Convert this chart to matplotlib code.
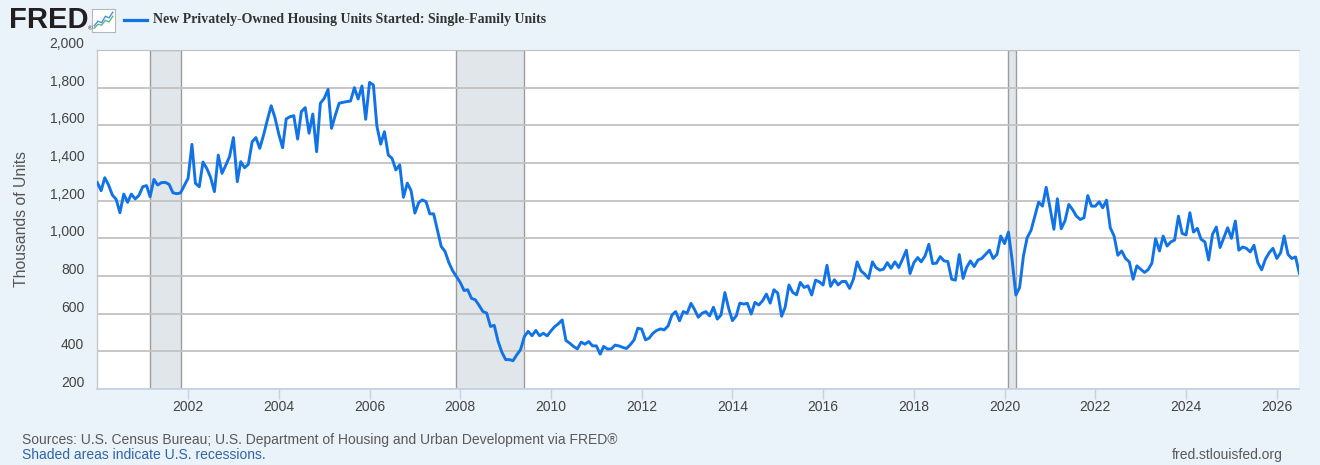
import matplotlib
matplotlib.use('Agg')
import matplotlib.pyplot as plt
import pandas as pd
from matplotlib.lines import Line2D

plt.rcParams['font.family'] = ['Liberation Sans', 'DejaVu Sans']

# housing starts, single-family, thousands of units (SAAR), monthly from Jan 2000
starts = [
    1296, 1253, 1322, 1283, 1230, 1207, 1136, 1235, 1191, 1235, 1209, 1228,
    1274, 1280, 1221, 1313, 1283, 1296, 1297, 1287, 1242, 1237, 1241, 1280,
    1319, 1499, 1292, 1274, 1405, 1370, 1324, 1248, 1442, 1345, 1389, 1434,
    1535, 1301, 1407, 1375, 1393, 1513, 1535, 1478, 1549, 1628, 1704, 1642,
    1554, 1481, 1634, 1646, 1651, 1527, 1673, 1694, 1558, 1660, 1460, 1717,
    1743, 1791, 1584, 1655, 1717, 1722, 1726, 1729, 1800, 1740, 1809, 1632,
    1828, 1814, 1596, 1500, 1566, 1442, 1425, 1363, 1390, 1218, 1293, 1254,
    1134, 1190, 1204, 1195, 1130, 1130, 1045, 957, 930, 872, 828, 798,
    766, 723, 727, 681, 674, 644, 612, 603, 532, 538, 453, 396,
    356, 356, 350, 382, 409, 479, 506, 483, 511, 483, 496, 482,
    509, 532, 546, 567, 458, 443, 426, 413, 449, 438, 452, 429,
    429, 385, 426, 412, 413, 433, 429, 421, 415, 435, 461, 523,
    518, 461, 470, 496, 511, 519, 514, 535, 593, 611, 562, 611,
    602, 655, 623, 581, 602, 611, 588, 634, 571, 593, 712, 629,
    563, 589, 656, 651, 655, 598, 660, 646, 669, 704, 656, 727,
    709, 586, 634, 752, 713, 700, 766, 739, 748, 699, 778, 769,
    752, 857, 745, 780, 753, 771, 771, 734, 783, 875, 827, 810,
    787, 875, 845, 831, 836, 871, 841, 875, 845, 889, 937, 813,
    871, 898, 875, 907, 968, 866, 868, 903, 880, 877, 783, 778,
    914, 787, 845, 880, 850, 885, 893, 915, 937, 893, 915, 1012,
    972, 1033, 889, 699, 739, 907, 1004, 1042, 1118, 1192, 1171, 1271,
    1162, 1048, 1210, 1051, 1092, 1180, 1153, 1118, 1100, 1109, 1227, 1171,
    1171, 1194, 1162, 1203, 1056, 1012, 910, 933, 893, 875, 783, 854,
    836, 819, 833, 868, 998, 933, 1012, 959, 981, 991, 1118, 1026,
    1018, 1136, 1033, 1053, 995, 981, 885, 1021, 1060, 951, 1004, 1056,
    1000, 1092, 937, 954, 947, 928, 963, 871, 833, 889, 924, 947,
    893, 924, 1012, 915, 893, 901, 815,
]
rec_start = ['2001-03-01', '2007-12-01', '2020-02-01']
rec_end = ['2001-11-01', '2009-06-01', '2020-04-01']
tick_years = list(range(2002, 2027, 2))
y_ticks = list(range(200, 2001, 200))

W, H = 1320, 465
bg = '#eaf2fa'
blue = '#1173e6'
txt = '#444444'

fig = plt.figure(figsize=(W / 100, H / 100), dpi=100, facecolor=bg)
ax = fig.add_axes([97.3 / W, 1 - 389 / H, 1202 / W, 339 / H])
ax.set_facecolor('white')

dates = pd.date_range('2000-01-01', periods=len(starts), freq='MS')
ax.plot(dates, starts, color=blue, lw=2.1, solid_joinstyle='round', zorder=3)

for a, b in zip(rec_start, rec_end):
    ax.axvspan(pd.Timestamp(a), pd.Timestamp(b), facecolor='#e1e6eb',
               edgecolor='#9c9c9c', lw=1, zorder=0.3)

ax.set_xlim(dates[0], dates[-1])
ax.set_ylim(200, 2000)
ax.set_yticks(y_ticks)
ax.grid(axis='y', color='#c2c2c2', lw=1.3)
ax.set_axisbelow(True)
ax.tick_params(axis='y', length=0, labelleft=False)
for v in y_ticks:
    ax.annotate(f'{v:,}', xy=(0, v), xycoords=('axes fraction', 'data'),
                xytext=(-13, 6), textcoords='offset pixels', ha='right',
                va='center', fontsize=10, color=txt)

ax.set_xticks([pd.Timestamp(f'{y}-01-01') for y in tick_years])
ax.set_xticklabels([str(y) for y in tick_years])
ax.tick_params(axis='x', length=7, width=1, color='#c5d3e3', labelsize=10,
               labelcolor=txt, pad=1)

ax.spines['right'].set_visible(False)
ax.spines['top'].set_color('#c2c2c2')
ax.spines['left'].set_color('#c8c8c8')
ax.spines['left'].set_linewidth(1)
ax.spines['bottom'].set_color('#c5d3e3')
ax.spines['bottom'].set_linewidth(1.3)

fig.text(22 / W, 1 - 219 / H, 'Thousands of Units', rotation=90, ha='center',
         va='center', fontsize=11.3, color='#555555')

# header: logo, icon, legend line, title
fig.text(9 / W, 1 - 20 / H, 'FRED', fontsize=21, fontweight='bold',
         color='#231f20', va='center')
fig.text(88 / W, 1 - 29 / H, '®', fontsize=4.5, color='#231f20', va='center')
icon = fig.add_axes([92 / W, 1 - 32 / H, 23 / W, 23 / H])
icon.set_facecolor('white')
for s in icon.spines.values():
    s.set_color('#b8b8b8')
icon.set_xticks([])
icon.set_yticks([])
icon_blue = [1, 2.2, 1.8, 3.4, 3.0, 4.4]
icon_green = [0.4, 1.4, 1.2, 2.4, 2.0, 3.4]
icon.plot(icon_blue, color='#4a8fe0', lw=1)
icon.plot(icon_green, color='#5cb88a', lw=1)
icon.set_xlim(-0.6, 5.6)
icon.set_ylim(-0.5, 5.2)
fig.add_artist(Line2D([124 / W, 147 / W], [1 - 20 / H, 1 - 20 / H],
                      color=blue, lw=2.3))
fig.text(153 / W, 1 - 20 / H,
         'New Privately-Owned Housing Units Started: Single-Family Units',
         family='Liberation Serif', fontweight='bold', fontsize=10,
         color='#333333', va='center')

# footer
fig.text(22 / W, 1 - 440 / H,
         'Sources: U.S. Census Bureau; U.S. Department of Housing and Urban '
         'Development via FRED®', fontsize=10, color='#595959', va='center')
fig.text(22 / W, 1 - 455 / H, 'Shaded areas indicate U.S. recessions.',
         fontsize=10, color='#2f64a8', va='center')
fig.text(1283 / W, 1 - 455 / H, 'fred.stlouisfed.org', fontsize=10,
         color='#595959', va='center', ha='right')

fig.savefig('out.png', dpi=100, facecolor=bg)
